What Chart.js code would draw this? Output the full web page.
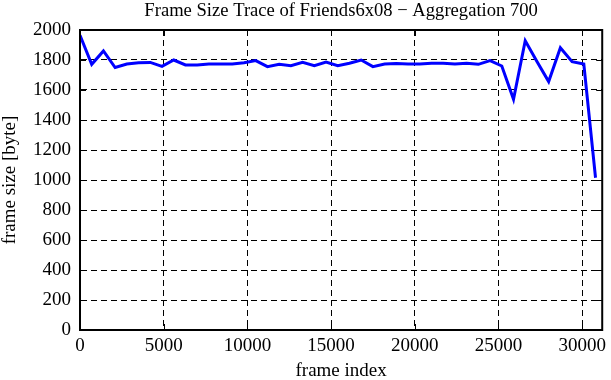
<!DOCTYPE html>
<html>
<head>
<meta charset="utf-8">
<script src="https://cdn.jsdelivr.net/npm/chart.js@4.4.0/dist/chart.umd.min.js"></script>
<style>
  html, body { margin: 0; padding: 0; background: #ffffff; }
  #wrap { width: 611px; height: 380px; position: relative; }
</style>
</head>
<body>
<div id="wrap"><canvas id="c" width="611" height="380"></canvas></div>
<script>
const chartTitle = "Frame Size Trace of Friends6x08 \u2212 Aggregation 700";
const xAxisTitle = "frame index";
const yAxisTitle = "frame size [byte]";

const frameIndex = [
  0, 700, 1400, 2100, 2800, 3500, 4200, 4900, 5600, 6300,
  7000, 7700, 8400, 9100, 9800, 10500, 11200, 11900, 12600, 13300,
  14000, 14700, 15400, 16100, 16800, 17500, 18200, 18900, 19600, 20300,
  21000, 21700, 22400, 23100, 23800, 24500, 25200, 25900, 26600, 27300,
  28000, 28700, 29400, 30100, 30800
];
const frameSize = [
  1965, 1771, 1860, 1750, 1773, 1782, 1784, 1758, 1800, 1767,
  1767, 1773, 1773, 1773, 1782, 1796, 1756, 1771, 1762, 1784,
  1762, 1787, 1762, 1778, 1800, 1756, 1773, 1776, 1773, 1773,
  1778, 1778, 1773, 1778, 1771, 1796, 1760, 1538, 1929, 1790,
  1656, 1882, 1789, 1773, 1015
];

const xTicks = [0, 5000, 10000, 15000, 20000, 25000, 30000];
const yTicks = [0, 200, 400, 600, 800, 1000, 1200, 1400, 1600, 1800, 2000];

const FONT = "'Liberation Serif', 'DejaVu Serif', serif";

const points = frameIndex.map((x, i) => ({ x: x, y: frameSize[i] }));

const frameBox = {
  id: 'frameBox',
  afterDraw(chart) {
    const { ctx, chartArea: a, scales } = chart;
    ctx.save();
    ctx.strokeStyle = '#000';
    ctx.lineWidth = 1;
    ctx.beginPath();
    const tl = 6;
    xTicks.forEach(v => {
      const px = Math.round(scales.x.getPixelForValue(v)) + 0.5;
      ctx.moveTo(px, a.bottom); ctx.lineTo(px, a.bottom - tl);
      ctx.moveTo(px, a.top); ctx.lineTo(px, a.top + tl);
    });
    yTicks.forEach(v => {
      const py = Math.round(scales.y.getPixelForValue(v)) + 0.5;
      ctx.moveTo(a.left, py); ctx.lineTo(a.left + tl, py);
      ctx.moveTo(a.right, py); ctx.lineTo(a.right - tl, py);
    });
    ctx.stroke();
    ctx.lineWidth = 2;
    ctx.strokeRect(a.left, a.top, a.right - a.left, a.bottom - a.top);
    // title centred over the plot area
    ctx.fillStyle = '#000';
    ctx.font = "18.6px " + FONT;
    ctx.textAlign = 'center';
    ctx.textBaseline = 'middle';
    ctx.fillText(chartTitle, (a.left + a.right) / 2, 11);
    ctx.restore();
  }
};

new Chart(document.getElementById('c'), {
  type: 'line',
  data: {
    datasets: [{
      data: points,
      borderColor: '#0000ff',
      borderWidth: 3,
      pointRadius: 0,
      tension: 0,
      fill: false
    }]
  },
  options: {
    responsive: false,
    animation: false,
    layout: { padding: { left: 0, right: 3, top: 30, bottom: 0 } },
    plugins: {
      legend: { display: false },
      tooltip: { enabled: false },
      title: { display: false }
    },
    scales: {
      x: {
        type: 'linear',
        min: 0,
        max: 31200,
        afterBuildTicks(scale) { scale.ticks = xTicks.map(v => ({ value: v })); },
        afterFit(scale) { scale.height = 50; },
        ticks: {
          color: '#000',
          padding: 5,
          maxRotation: 0,
          autoSkip: false,
          font: { family: FONT, size: 19 },
          callback: v => String(v)
        },
        grid: { color: '#000', lineWidth: 1, drawTicks: false },
        border: { display: true, color: '#000', width: 2, dash: [6, 4] },
        title: {
          display: true,
          text: xAxisTitle,
          color: '#000',
          font: { family: FONT, size: 19, lineHeight: 0.9 },
          padding: { top: 0, bottom: 0 }
        }
      },
      y: {
        type: 'linear',
        min: 0,
        max: 2000,
        afterBuildTicks(scale) { scale.ticks = yTicks.map(v => ({ value: v })); },
        afterFit(scale) { scale.width = 80; },
        ticks: {
          color: '#000',
          padding: 9,
          autoSkip: false,
          font: { family: FONT, size: 19 },
          callback: v => String(v)
        },
        grid: { color: '#000', lineWidth: 1, drawTicks: false },
        border: { display: true, color: '#000', width: 2, dash: [6, 4] },
        title: {
          display: true,
          text: yAxisTitle,
          color: '#000',
          font: { family: FONT, size: 19, lineHeight: 1.0 },
          padding: { top: 1, bottom: 0 }
        }
      }
    }
  },
  plugins: [frameBox]
});
</script>
</body>
</html>
